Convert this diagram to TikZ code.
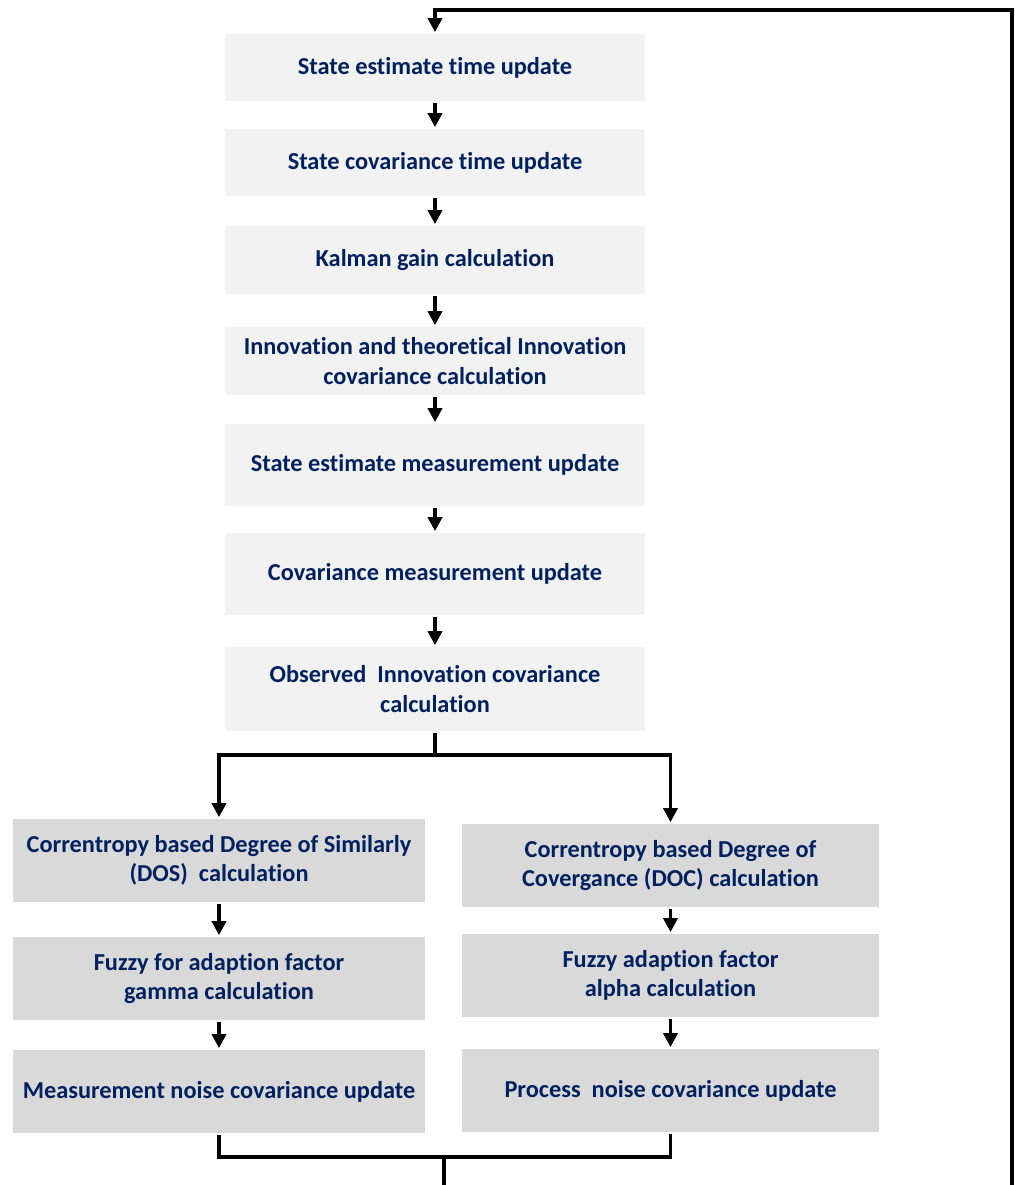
\documentclass[tikz,border=0pt]{standalone}
\usepackage{fontspec}
\setmainfont{Carlito}[Ligatures=NoCommon]
\usepackage{tikz}
\usetikzlibrary{arrows.meta, positioning, calc}
\definecolor{navy}{HTML}{002060}
\definecolor{boxlight}{HTML}{F2F2F2}
\definecolor{boxgray}{HTML}{D9D9D9}

\begin{document}
\begin{tikzpicture}[x=0.025cm, y=-0.025cm, >={Triangle[width=10pt, length=10pt]},
  line width=2.6pt,
  stepbox/.style={fill=boxlight, draw=none, text=navy, align=center,
    font=\fontsize{17.3}{21}\selectfont\bfseries, inner sep=0pt,
    minimum width=10.475cm},
  sidebox/.style={stepbox, fill=boxgray, minimum height=2.075cm}]
  \useasboundingbox (0,0) rectangle (1014,1185);
  % Main chain
  \node[stepbox, minimum height=1.675cm] (b1) at (435,67.5) {State estimate time update};
  \node[stepbox, minimum height=1.675cm] (b2) at (435,162.5) {State covariance time update};
  \node[stepbox, minimum height=1.7cm] (b3) at (435,260) {Kalman gain calculation};
  \node[stepbox, minimum height=1.7cm] (b4) at (435,361) {Innovation and theoretical Innovation\\covariance calculation};
  \node[stepbox, minimum height=2.05cm] (b5) at (435,465) {State estimate measurement update};
  \node[stepbox, minimum height=2.05cm] (b6) at (435,574) {Covariance measurement update};
  \node[stepbox, minimum height=2.1cm] (b7) at (435,689) {Observed\ \ Innovation covariance\\calculation};
  % Left branch
  \node[sidebox, minimum width=10.3cm] (l1) at (219,860.5) {Correntropy based Degree of Similarly\\(DOS)\ \ calculation};
  \node[sidebox, minimum width=10.3cm] (l2) at (219,978.5) {Fuzzy for adaption factor\\gamma calculation};
  \node[sidebox, minimum width=10.3cm] (l3) at (219,1091.5) {Measurement noise covariance update};
  % Right branch
  \node[sidebox, minimum width=10.425cm] (r1) at (670.5,865.5) {Correntropy based Degree of\\Covergance (DOC) calculation};
  \node[sidebox, minimum width=10.425cm] (r2) at (670.5,975.5) {Fuzzy adaption factor\\alpha calculation};
  \node[sidebox, minimum width=10.425cm] (r3) at (670.5,1090.5) {Process\ \ noise covariance update};
  % Junction points
  \coordinate (split) at (435,755);
  \coordinate (join) at (444,1157);
  \coordinate (down) at (444,1185);
  \coordinate (back) at (1012,1185);
  \coordinate (top) at (1012,10);
  % Arrows
  \foreach \a/\b in {b1/b2, b2/b3, b3/b4, b4/b5, b5/b6, b6/b7, l1/l2, l2/l3, r1/r2, r2/r3}
    \draw[->] (\a) -- (\b);
  \draw (b7.south) -- (split);
  \draw[->] (split) -| (l1.north);
  \draw[->] (split) -| (r1.north);
  \draw (l3.south) |- (join) -| (r3.south);
  \draw (join) -- (down);
  \draw[->] (back) -- (top) -| (b1.north);
\end{tikzpicture}
\end{document}
